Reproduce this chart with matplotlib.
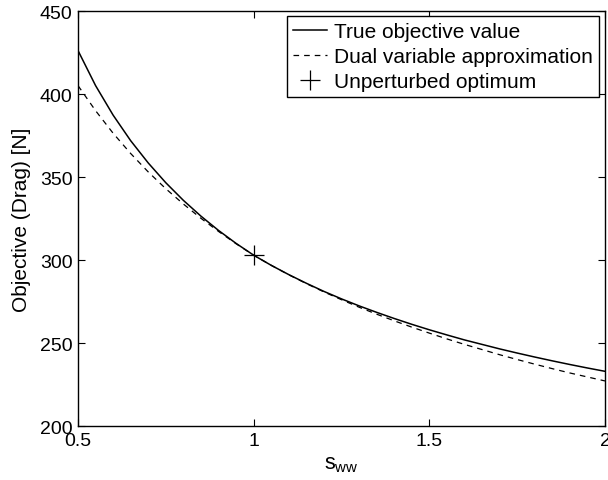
import matplotlib
matplotlib.use("Agg")
import matplotlib.pyplot as plt

# ---- data ----
s_ww = [0.50, 0.55, 0.60, 0.65, 0.70, 0.75, 0.80, 0.85, 0.90, 0.95,
        1.00, 1.05, 1.10, 1.15, 1.20, 1.25, 1.30, 1.35, 1.40, 1.45,
        1.50, 1.55, 1.60, 1.65, 1.70, 1.75, 1.80, 1.85, 1.90, 1.95, 2.00]
true_obj = [426.2, 405.1, 387.3, 371.9, 358.5, 346.6, 336.0, 326.5, 317.9, 310.1,
            303.0, 296.9, 291.3, 286.1, 281.2, 276.7, 272.5, 268.6, 264.9, 261.4,
            258.1, 255.0, 252.0, 249.3, 246.6, 244.1, 241.7, 239.4, 237.2, 235.1, 233.1]
dual_approx = [405.1, 390.0, 376.4, 364.2, 353.1, 343.0, 333.8, 325.2, 317.3, 309.9,
               303.0, 296.9, 291.2, 285.9, 280.9, 276.2, 271.7, 267.5, 263.5, 259.7,
               256.1, 252.6, 249.3, 246.2, 243.1, 240.2, 237.4, 234.7, 232.1, 229.7, 227.3]
opt_x = [1.0]
opt_y = [303.0]

x_ticks = [0.5, 1, 1.5, 2]
x_ticklabels = ["0.5", "1", "1.5", "2"]
y_ticks = [200, 250, 300, 350, 400, 450]
y_ticklabels = ["200", "250", "300", "350", "400", "450"]

plt.rcParams['font.family'] = ['Liberation Sans', 'DejaVu Sans']
plt.rcParams['mathtext.fontset'] = 'custom'
plt.rcParams['mathtext.rm'] = 'Liberation Sans'
plt.rcParams['mathtext.it'] = 'Liberation Sans'

fig = plt.figure(figsize=(6.08, 4.81), dpi=100)
ax = fig.add_axes([78/608, 1 - 427.3/481, (605 - 78)/608, (427.3 - 12)/481])

ax.plot(s_ww, true_obj, color='black', lw=1.1, label='True objective value')
ax.plot(s_ww, dual_approx, color='black', lw=0.9, dashes=(4.5, 4),
        label='Dual variable approximation')
ax.plot(opt_x, opt_y, linestyle='none', marker='+', color='black',
        markersize=14, markeredgewidth=0.9, label='Unperturbed optimum')

ax.set_xlim(0.5, 2)
ax.set_ylim(200, 450)
ax.set_xticks(x_ticks)
ax.set_xticklabels(x_ticklabels)
ax.set_yticks(y_ticks)
ax.set_yticklabels(y_ticklabels)
ax.tick_params(direction='in', top=True, right=True, length=5, width=0.8,
               labelsize=14, pad=4)
for sp in ax.spines.values():
    sp.set_linewidth(1.0)

ax.set_xlabel(r'$\mathrm{s_{ww}}$', fontsize=15.5, labelpad=3)
ax.set_ylabel('Objective (Drag) [N]', fontsize=15, labelpad=6)

leg = ax.legend(loc='upper right', bbox_to_anchor=(0.9886, 0.988),
                borderaxespad=0, fontsize=15, frameon=True, fancybox=False,
                edgecolor='black', framealpha=1, labelspacing=0.28,
                borderpad=0.3, handlelength=1.6, handletextpad=0.35)
leg.get_frame().set_linewidth(1.0)

fig.savefig('out.png', dpi=100)
